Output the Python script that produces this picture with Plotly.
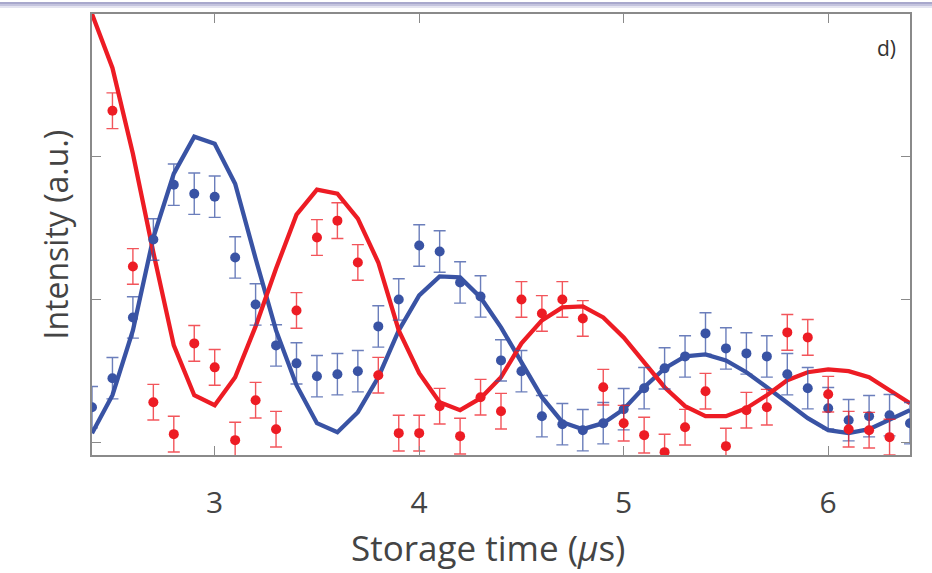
import plotly.graph_objects as go

# ---------------- data ----------------
time_us = [round(2.4 + 0.1 * k, 1) for k in range(41)]

blue_fit = [0.063, 0.329, 0.783, 1.434, 1.881, 2.140, 2.091, 1.811, 1.287, 0.783,
            0.399, 0.133, 0.070, 0.210, 0.455, 0.783, 1.028, 1.161, 1.154, 1.014,
            0.804, 0.552, 0.315, 0.140, 0.091, 0.133, 0.231, 0.385, 0.517, 0.601,
            0.615, 0.573, 0.490, 0.385, 0.273, 0.168, 0.084, 0.063, 0.091, 0.154,
            0.224]

red_fit = [3.000, 2.622, 2.021, 1.329, 0.678, 0.329, 0.259, 0.455, 0.811, 1.217,
           1.594, 1.769, 1.741, 1.566, 1.259, 0.783, 0.483, 0.280, 0.224, 0.308,
           0.455, 0.692, 0.853, 0.944, 0.951, 0.874, 0.734, 0.559, 0.385, 0.252,
           0.182, 0.182, 0.238, 0.329, 0.434, 0.490, 0.510, 0.497, 0.455, 0.364,
           0.273]

blue_data = [0.245, 0.448, 0.874, 1.420, 1.804, 1.741, 1.720, 1.294, 0.965, 0.678,
             0.552, 0.462, 0.476, 0.497, 0.811, 1.000, 1.378, 1.336, 1.119, 1.021,
             0.573, 0.497, 0.182, 0.126, 0.084, 0.133, 0.231, 0.378, 0.517, 0.601,
             0.762, 0.657, 0.622, 0.601, 0.476, 0.378, 0.238, 0.154, 0.182, 0.189,
             0.133]

red_data = [None, 2.322, 1.231, 0.280, 0.056, 0.692, 0.524, 0.014, 0.294, 0.091,
            0.923, 1.434, 1.552, 1.259, 0.469, 0.063, 0.063, 0.252, 0.042, 0.315,
            0.217, 1.000, 0.902, 1.000, 0.867, 0.385, 0.133, 0.049, -0.070, 0.105,
            0.357, -0.028, 0.224, 0.245, 0.769, 0.734, 0.336, 0.091, 0.084, 0.035,
            None]

blue_err = [0.145] * 41
red_err = [0.125] * 41

x_ticks = [3, 4, 5, 6]
x_tick_labels = ["3", "4", "5", "6"]
y_ticks = [0, 1, 2]

BLUE = "#3953a4"
RED = "#ed1c24"
TXT = "#444444"
AX = "#8a8a8a"
FONT = "Open Sans"

W, H = 932, 573
ML, MR, MT, MB = 92, 22, 12, 118
PW, PH = W - ML - MR, H - MT - MB

fig = go.Figure()

fig.add_trace(go.Scatter(x=time_us, y=blue_fit, mode="lines",
                         line=dict(color=BLUE, width=4.3), hoverinfo="skip",
                         showlegend=False))
fig.add_trace(go.Scatter(x=time_us, y=red_fit, mode="lines",
                         line=dict(color=RED, width=4.3), hoverinfo="skip",
                         showlegend=False))
fig.add_trace(go.Scatter(x=time_us, y=blue_data, mode="markers",
                         marker=dict(color=BLUE, size=10),
                         error_y=dict(type="data", array=blue_err, visible=True,
                                      color="rgba(57,83,164,0.75)", thickness=1.4, width=6),
                         showlegend=False))
fig.add_trace(go.Scatter(x=time_us, y=red_data, mode="markers",
                         marker=dict(color=RED, size=10),
                         error_y=dict(type="data", array=red_err, visible=True,
                                      color="rgba(237,28,36,0.75)", thickness=1.4, width=6),
                         showlegend=False))

axis_common = dict(showline=True, linecolor=AX, linewidth=1.5, mirror="ticks",
                   ticks="inside", ticklen=9, tickcolor=AX, tickwidth=1.3,
                   showgrid=False, zeroline=False)

fig.update_xaxes(range=[2.4, 6.4], tickvals=x_ticks, ticktext=x_tick_labels,
                 tickfont=dict(family=FONT, size=30, color=TXT),
                 ticklabelstandoff=20, **axis_common)
fig.update_yaxes(range=[-0.09, 3.0], tickvals=y_ticks, showticklabels=False,
                 **axis_common)

# top page band
band = [("#a8a8cc", 0, 2), ("#c4c4de", 2, 4), ("#e4e4f0", 4, 6)]
for col, y0p, y1p in band:
    fig.add_shape(type="rect", xref="paper", yref="paper",
                  x0=-ML / PW, x1=(W - ML) / PW,
                  y0=1 + (MT - y1p) / PH, y1=1 + (MT - y0p) / PH,
                  fillcolor=col, line=dict(width=0), layer="above")

annotations = [
    dict(text="Intensity (a.u.)", xref="paper", yref="paper",
         x=(55 - ML) / PW, y=0.5, textangle=-90, showarrow=False,
         xanchor="center", yanchor="middle",
         font=dict(family=FONT, size=32, color=TXT)),
    dict(text="Storage time (<i>μ</i>s)", xref="paper", yref="paper",
         x=(488 - ML) / PW, y=-(548 - MT - PH) / PH, showarrow=False,
         xanchor="center", yanchor="middle",
         font=dict(family=FONT, size=35, color=TXT)),
    dict(text="d)", xref="paper", yref="paper",
         x=(886 - ML) / PW, y=1 - (46 - MT) / PH, showarrow=False,
         xanchor="center", yanchor="middle",
         font=dict(family=FONT, size=21, color="#333333")),
]

fig.update_layout(width=W, height=H, margin=dict(l=ML, r=MR, t=MT, b=MB),
                  paper_bgcolor="white", plot_bgcolor="white",
                  annotations=annotations, showlegend=False)

fig.write_html("out.html", config={"displayModeBar": False},
               post_script="document.body.style.margin='0';document.body.style.overflow='hidden';")
